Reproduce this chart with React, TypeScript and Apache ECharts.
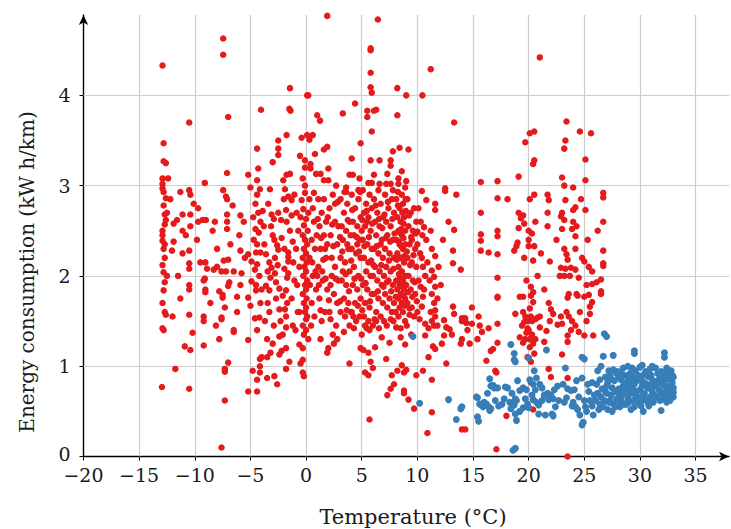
import React, { useEffect, useRef } from "react";
import * as echarts from "echarts";

const xTicks = [-20, -15, -10, -5, 0, 5, 10, 15, 20, 25, 30, 35];
const yTicks = [0, 1, 2, 3, 4];
const xGrid = [-15, -10, -5, 0, 5, 10, 15, 20, 25, 30, 35];
const yGrid = [1, 2, 3, 4];

const redCold: number[][] = [
  [-12.9,4.33],[-12.8,3.47],[-12.8,3.27],[-12.6,3.25],[-12.9,3.08],[-12.4,3.08],[-12.9,2.97],[-12.8,2.93],[-12.8,2.78],[-12.7,2.68],[-12.7,2.57],[-12.9,2.5],[-12.9,2.39],[-12.8,2.3],[-12.7,2.2],[-12.8,2.04],[-12.7,1.93],[-12.8,1.84],[-12.7,1.6],[-12.6,1.57],[-12.9,1.42],[-12.8,1.4],[-12.95,0.77],[-12.9,2.45],[-12.6,2.62],[-12.9,2.12],[-12.5,2.0],[-12.9,1.7],[-12.6,2.86],[-12.9,3.02],[-12.7,2.35],[-12.5,2.7],
  [-12.2,2.85],[-11.3,2.93],[-10.5,2.95],[-10.4,2.9],[-11.1,2.68],[-11.9,2.58],[-11.6,2.62],[-10.4,2.68],[-10.4,2.55],[-11.1,2.5],[-10.5,3.7],[-10.1,2.8],[-9.7,2.75],[-9.1,3.03],[-11.9,2.38],[-12.05,2.28],[-11.1,2.25],[-10.5,2.28],[-10.5,2.14],[-10.5,2.08],[-10.5,1.9],[-10.5,1.85],[-10.5,1.57],[-10.2,1.37],[-10.9,1.22],[-10.4,1.18],[-11.75,0.97],[-10.5,0.75],[-9.5,2.15],[-9.05,2.15],[-8.9,2.08],[-9.1,1.97],[-9.2,1.95],[-9.05,1.85],[-9.05,1.82],[-9.2,1.55],[-9.2,1.5],[-9.2,1.23],[-9.3,2.62],[-9.7,2.6],[-9.0,2.62],[-11.5,2.0],[-12.0,1.55],[-11.3,1.75],[-9.8,2.4],[-10.8,2.45],
  [-7.45,4.63],[-7.45,4.45],[-7.0,3.76],[-7.1,3.14],[-7.45,2.95],[-7.2,2.88],[-7.1,2.85],[-6.6,2.78],[-7.1,2.68],[-7.1,2.6],[-7.1,2.52],[-8.2,2.6],[-8.4,2.5],[-5.2,3.12],[-5.0,2.98],[-5.9,2.67],[-5.6,2.6],[-8.3,2.07],[-8.0,2.1],[-7.6,2.05],[-7.4,2.17],[-7.0,2.18],[-7.2,2.05],[-6.9,1.93],[-7.0,1.89],[-7.5,1.79],[-7.5,1.76],[-7.8,1.83],[-7.3,1.65],[-7.6,1.54],[-7.6,1.52],[-7.8,1.3],[-7.0,1.04],[-7.3,0.97],[-7.3,0.94],[-7.3,0.62],[-7.6,0.1],[-6.5,2.05],[-5.8,2.03],[-5.9,1.9],[-6.2,1.77],[-6.2,1.6],[-6.5,1.4],[-6.5,1.38],[-5.2,1.29],[-5.2,0.72],[-5.9,2.28],[-8.0,2.3],[-6.0,2.45],[-5.5,2.2],[-8.6,1.7],[-6.8,2.35],[-8.1,1.45],
  [-4.4,3.06],[-4.4,3.41],[-4.05,3.84],[-4.3,3.19],[-4.15,2.96],[-4.4,2.9],[-4.55,2.8],[-4.3,2.7],[-3.25,2.96],[-3.0,3.26],[-2.5,3.5],[-2.5,3.41],[-2.5,3.34],[-3.4,2.8],[-3.1,2.68],[-2.9,2.63],[-2.5,2.7],[-1.9,2.96],[-2.05,3.06],[-1.75,3.12],[-1.45,3.13],[-2.0,2.85],[-1.6,2.88],[-1.3,2.84],[-1.8,2.73],[-1.3,2.67],[-1.75,2.6],[-1.45,2.5],[-4.55,2.52],[-4.1,2.6],[-1.45,4.08],[-1.5,3.85],[-1.4,3.83],[-1.75,3.56],
  [-4.4,0.72],[-4.4,0.85],[-4.15,0.93],[-4.15,1.0],[-4.15,1.08],[-4.0,1.1],[-3.5,1.1],[-3.5,0.87],[-2.85,0.89],[-2.4,1.13],[-2.2,1.17],[-1.8,1.2],[-2.4,1.33],[-2.1,1.35],[-2.9,1.45],[-1.8,1.43],[-1.8,0.97],[-1.8,1.55],[-1.9,1.63],[-1.7,1.7],[-2.4,1.63],[-3.3,1.6],[-3.45,1.7],[-4.4,1.4],[-4.2,1.54],[-4.6,1.53],[-5.0,1.67],[-5.2,1.76],[-4.9,1.94],[-4.5,1.9],[-4.5,1.84],[-4.1,1.7],[-4.2,2.0],[-4.6,2.07],[-4.4,2.13],[-4.9,2.16],[-5.2,2.24],[-4.5,2.26],[-4.1,2.26],[-4.4,2.35],[-3.6,2.24],[-3.3,2.15],[-3.1,2.09],[-2.8,2.03],[-3.2,1.98],[-3.6,1.89],[-3.3,1.84],[-2.7,1.93],[-2.4,1.86],[-2.1,1.78],[-1.8,1.84],[-1.7,1.98],[-1.6,2.03],[-1.95,2.08],[-1.6,2.16],[-1.6,2.21],[-1.6,2.26],[-2.6,2.34],[-2.5,2.29],[-3.0,2.45],[-3.8,2.55],[-2.2,2.42],[-1.2,2.38],[-3.5,1.3],[-4.8,0.95],[-2.6,0.8],[-1.5,1.05],[-3.9,2.72],[-2.8,2.2],[-1.3,1.75],[-1.2,1.45],[-4.7,2.4],[-3.2,1.15],
  [-4.75,2.65],[-4.25,2.48],[-3.75,2.35],[-3.45,2.05],[-3.15,2.55],[-2.85,2.4],[-2.55,2.12],[-2.25,2.62],[-1.95,2.3],[-1.15,2.15],[-1.05,1.95],[-0.85,2.7],[-0.75,1.6],[-0.95,1.4],[-1.05,2.9],[-3.7,1.5],[-2.7,1.75],[-4.0,1.85],[-3.0,1.25],[-2.3,1.5],
];

const redMild: number[][] = [
  [-0.4,3.53],[-0.55,3.33],[-0.1,3.28],[-0.1,3.2],[-0.3,3.08],[0.1,4.0],[0.1,3.56],[-0.1,3.0],[-0.1,2.92],[-0.4,2.84],[-0.25,2.74],[0.0,2.63],[-0.2,2.56],[-0.6,1.24],[-0.3,1.07],[-0.5,1.03],[-0.3,0.93],[-0.2,0.89],[-0.3,1.2],[0.0,1.52],[-0.3,2.45],[-0.1,2.4],[0.1,2.35],[-0.2,2.3],[0.0,2.25],[-0.3,2.2],[0.05,2.15],[-0.15,2.1],[0.0,2.05],[-0.25,2.0],[0.1,1.95],[-0.1,1.9],[0.0,1.85],[-0.3,1.8],[0.05,1.75],[-0.2,1.7],[0.0,1.65],[-0.1,1.6],[0.1,1.55],[-0.3,1.45],[0.0,1.4],[-0.2,1.35],[0.15,2.5],[0.2,2.7],[0.3,2.85],[0.3,2.2],[0.35,1.9],[-0.6,2.1],[-0.7,2.5],[-0.8,1.9],[-0.9,2.3],[0.5,2.4],[0.6,2.0],[0.5,1.7],[0.4,3.24],[0.4,3.19],[0.3,3.51],[0.6,3.56],[-0.5,2.65],[-0.6,1.6],[0.2,1.3],[0.7,2.6],[0.8,2.3],[0.9,1.85],
  [1.9,4.88],[6.45,4.84],[5.8,4.52],[5.8,4.5],[5.8,4.25],[5.8,4.09],[5.9,4.03],[8.2,4.08],[9.0,4.0],[10.45,4.0],[11.2,4.29],[0.2,4.0],[4.4,3.91],[3.3,3.8],[1.0,3.78],[1.25,3.72],[5.5,3.83],[5.5,3.76],[6.1,3.83],[6.3,3.84],[8.2,3.78],[13.3,3.7],[5.9,3.6],[4.9,3.47],[1.6,3.4],[1.9,3.43],[0.8,3.35],[4.1,3.3],[5.8,3.28],[6.6,3.28],[7.8,3.38],[8.4,3.42],[9.2,3.4],[7.6,3.28],[7.6,3.22],[8.6,3.16],[7.3,3.13],[6.1,3.12],[3.9,3.12],[4.2,3.12],[2.0,3.19],[0.9,3.13],[1.3,3.13],[1.6,3.06],[2.0,3.06],[2.7,3.0],[3.6,2.98],[3.6,2.93],[4.8,3.08],[5.6,3.03],[5.9,3.03],[6.6,3.02],[7.2,3.02],[7.6,3.02],[8.3,3.08],[8.3,3.02],[9.0,3.05],[8.9,2.98],[10.4,2.94],[10.8,2.84],[11.6,2.8],[11.6,2.73],[12.5,2.97],[12.5,2.94],[13.3,2.51],[10.0,2.49],[10.6,2.54],[11.2,2.5],
  [1.1,2.85],[1.4,2.7],[1.2,2.55],[1.6,2.45],[1.3,2.3],[1.8,2.2],[1.1,2.1],[1.5,1.95],[1.9,1.85],[1.2,1.75],[1.7,1.6],[1.4,1.5],[1.8,2.6],[1.9,2.35],[1.0,2.0],[1.6,2.85],[1.3,1.3],[1.9,1.15],
  [2.1,2.75],[2.4,2.9],[2.6,2.6],[2.2,2.45],[2.8,2.35],[2.3,2.2],[2.6,2.1],[2.9,1.95],[2.2,1.9],[2.5,1.8],[2.8,1.7],[2.1,1.6],[2.7,1.45],[2.4,1.35],[2.9,2.55],[2.3,2.0],[2.6,2.8],[2.0,1.2],[2.5,1.25],[2.8,1.3],
  [3.1,2.85],[3.4,2.7],[3.7,2.8],[3.2,2.55],[3.6,2.5],[3.9,2.6],[3.3,2.4],[3.8,2.3],[3.1,2.2],[3.5,2.15],[3.9,2.05],[3.2,1.95],[3.6,1.9],[3.4,1.75],[3.8,1.7],[3.1,1.6],[3.5,1.55],[3.9,1.45],[3.4,1.38],[4.0,1.6],[3.7,2.35],[3.3,2.05],[3.9,1.03],
  [4.1,2.9],[4.4,2.75],[4.7,2.85],[4.2,2.6],[4.6,2.55],[4.9,2.65],[4.3,2.45],[4.8,2.4],[4.1,2.3],[4.5,2.25],[4.9,2.2],[4.3,2.1],[4.7,2.0],[4.2,1.9],[4.6,1.85],[4.9,1.75],[4.4,1.7],[4.1,1.6],[4.8,1.55],[4.5,1.5],[4.3,1.42],[4.7,2.95],[4.0,2.45],[4.6,2.35],[5.0,1.35],[4.9,1.2],
  [5.1,2.95],[5.4,2.8],[5.7,2.9],[5.2,2.7],[5.6,2.65],[5.9,2.75],[5.3,2.55],[5.8,2.5],[5.1,2.4],[5.5,2.35],[5.9,2.3],[5.2,2.2],[5.6,2.15],[5.4,2.05],[5.8,2.0],[5.1,1.9],[5.5,1.85],[5.9,1.8],[5.3,1.7],[5.7,1.65],[5.2,1.55],[5.6,1.5],[5.7,1.4],[5.3,1.45],[5.15,1.18],[5.6,1.15],[5.3,0.93],[5.6,0.9],[5.7,0.41],[5.8,1.05],[6.0,0.98],[5.5,2.6],[5.0,2.5],
  [6.1,2.85],[6.4,2.7],[6.7,2.8],[6.2,2.6],[6.6,2.55],[6.9,2.65],[6.3,2.45],[6.8,2.4],[6.1,2.3],[6.5,2.25],[6.9,2.2],[6.2,2.1],[6.6,2.05],[6.4,1.95],[6.8,1.9],[6.1,1.8],[6.5,1.75],[6.9,1.7],[6.3,1.6],[6.7,1.55],[6.0,1.45],[6.3,1.5],[6.2,1.21],[6.8,1.32],[7.0,1.5],[6.5,2.95],[6.0,2.0],[6.7,2.35],
  [7.1,2.9],[7.4,2.75],[7.7,2.85],[7.2,2.6],[7.6,2.55],[7.9,2.7],[7.3,2.45],[7.8,2.4],[7.1,2.3],[7.5,2.25],[7.9,2.2],[7.2,2.1],[7.6,2.05],[7.4,1.95],[7.8,1.9],[7.1,1.8],[7.5,1.75],[7.9,1.7],[7.3,1.65],[7.7,1.6],[7.6,1.52],[7.2,1.08],[7.7,0.9],[7.9,0.8],[7.6,0.75],[7.3,0.68],[7.5,1.26],[7.0,2.0],[7.8,2.95],
  [8.1,2.85],[8.4,2.75],[8.7,2.8],[8.2,2.65],[8.5,2.6],[8.8,2.65],[8.3,2.5],[8.6,2.45],[8.9,2.5],[8.1,2.4],[8.4,2.35],[8.7,2.3],[8.9,2.35],[8.2,2.25],[8.5,2.2],[8.8,2.15],[8.3,2.1],[8.6,2.05],[8.9,2.0],[8.1,1.95],[8.4,1.9],[8.7,1.95],[8.2,1.85],[8.5,1.8],[8.8,1.85],[8.3,1.75],[8.6,1.7],[8.9,1.75],[8.4,1.65],[8.7,1.6],[8.1,1.43],[8.5,1.42],[8.9,1.5],[8.5,1.32],[8.2,0.95],[8.6,1.01],[8.8,0.93],[8.8,0.73],[8.8,0.7],[8.9,1.24],[8.6,2.9],[8.3,1.55],
  [9.0,0.96],[9.1,2.85],[9.4,2.7],[9.7,2.75],[9.2,2.55],[9.6,2.5],[9.3,2.35],[9.8,2.3],[9.1,2.2],[9.5,2.15],[9.9,2.1],[9.2,2.0],[9.6,1.95],[9.4,1.85],[9.8,1.8],[9.1,1.7],[9.5,1.65],[9.3,1.64],[9.3,1.57],[9.7,0.53],[9.9,0.9],[9.7,1.55],[9.0,1.9],[9.5,2.4],[9.9,2.6],[9.2,0.63],
  [10.0,2.35],[10.4,2.2],[10.5,2.1],[10.7,2.0],[10.3,1.88],[10.5,1.77],[10.4,1.66],[10.2,1.52],[10.7,1.47],[11.3,1.5],[11.5,1.45],[11.8,1.45],[11.3,2.06],[11.5,1.99],[11.6,1.88],[11.3,1.8],[11.5,1.7],[11.6,1.62],[11.2,1.6],[11.3,2.3],[11.6,2.22],[10.5,0.95],[11.3,0.85],[11.3,0.49],[10.9,0.26],[11.0,1.1],[10.7,1.34],[11.4,1.22],[11.6,1.19],[11.0,1.42],[11.6,1.55],[10.3,2.6],[10.1,2.75],[10.8,2.4],[11.9,2.1],
];

const redDense: number[][] = [
  [0.7,2.92],[1.05,2.63],[1.35,2.42],[1.55,2.18],[1.75,1.97],[2.05,1.73],[2.35,2.57],[2.45,2.33],[2.65,1.97],[2.85,2.82],[3.05,2.43],[3.25,2.27],[3.45,2.93],[3.55,2.02],[3.75,2.62],[3.85,1.83],[4.05,2.17],[4.15,2.73],[4.35,1.97],[4.55,2.43],[4.65,1.67],[4.75,2.27],[4.85,2.93],[4.95,1.97],[5.05,2.62],[5.25,2.33],[5.35,1.92],[5.45,2.72],[5.65,2.43],[5.75,1.72],[5.85,2.17],[5.95,2.58],[6.05,2.12],[6.25,2.78],[6.35,2.33],[6.45,1.83],[6.55,2.63],[6.75,2.12],[6.85,2.53],[6.95,1.88],[7.05,2.68],[7.15,2.42],[7.25,1.93],[7.35,2.82],[7.45,2.17],[7.55,2.38],[7.65,1.83],[7.75,2.63],[7.85,2.08],[7.95,2.47],[8.05,1.77],[8.15,2.18],[8.25,2.93],[8.35,2.38],[8.45,1.98],[8.55,2.52],[8.65,1.88],[8.75,2.42],[8.85,1.67],[8.95,2.72],[9.05,2.27],[9.15,1.82],[9.25,2.67],[9.35,2.12],[9.45,2.43],[9.55,1.77],[9.65,2.23],[9.75,1.93],[9.85,2.47],[9.95,1.72],
  [1.3,1.62],[2.2,1.52],[3.05,1.72],[3.65,1.62],[4.25,1.55],[5.05,1.62],[5.45,1.42],[6.15,1.52],[6.55,1.42],[7.25,1.45],[7.85,1.5],[8.05,1.6],[9.05,1.45],[9.45,1.35],[10.0,1.6],[10.1,1.95],[10.25,2.25],[10.45,2.45],[10.6,1.85],[10.9,2.15],[11.1,1.95],[11.8,1.75],
  [0.45,1.45],[0.75,1.55],[0.55,2.15],[0.85,2.05],[0.6,2.75],[0.95,2.45],[1.15,1.9],[1.45,2.05],[1.7,2.3],[1.95,2.65],
  [8.55,2.33],[8.75,2.58],[8.95,2.85],[8.45,2.48],[8.65,2.7],[8.25,2.78],[8.85,2.22],[8.35,2.02],[8.55,1.92],[8.75,1.78],
];

const redWarm: number[][] = [
  [12.4,1.51],[12.6,1.43],[13.2,1.66],[13.3,1.58],[13.2,2.28],[13.2,2.14],[13.9,2.07],[14.0,1.5],[14.4,1.48],[13.9,1.25],[14.7,1.25],[13.1,1.35],[12.9,1.41],[12.4,1.34],[12.2,1.25],[12.6,1.03],[14.3,0.3],[14.9,1.65],[14.9,1.47],[14.5,1.4],[14.0,1.53],[14.15,1.53],[14.3,1.53],[14.0,1.3],[14.0,0.3],[12.3,2.4],[12.8,2.6],[12.1,1.9],[13.5,2.9],
  [15.7,3.04],[17.2,3.05],[17.2,2.86],[18.1,2.85],[19.1,3.1],[15.7,2.7],[17.2,2.5],[15.7,2.46],[15.7,2.39],[15.7,2.28],[16.4,2.26],[17.2,2.24],[17.2,2.44],[18.7,2.28],[18.9,2.33],[19.0,2.37],[17.2,1.98],[17.2,1.77],[17.2,1.76],[17.2,1.47],[17.2,1.26],[16.4,1.42],[16.8,1.19],[16.6,1.17],[16.2,1.06],[17.0,0.95],[15.5,1.55],[15.6,1.45],[15.8,1.38],[15.4,1.3],[18.8,1.58],[19.5,1.77],[19.2,1.77],[19.6,1.49],[19.2,1.32],[19.5,1.26],[19.7,1.3],[18.0,0.45],[17.1,0.08],[17.1,0.93],
  [20.1,3.58],[20.5,3.6],[19.7,3.48],[20.5,3.28],[20.4,3.24],[21.0,4.42],[20.1,2.85],[20.5,2.9],[19.1,2.7],[19.5,2.67],[19.3,2.64],[19.6,2.58],[19.1,2.53],[20.0,2.5],[20.3,2.47],[20.0,2.4],[20.0,2.33],[20.5,2.33],[20.4,2.17],[20.4,1.82],[20.2,1.88],[20.2,1.78],[20.4,1.71],[20.1,1.64],[20.2,1.55],[20.3,1.5],[20.6,1.52],[20.8,1.54],[21.0,1.55],[19.9,1.42],[19.8,1.37],[20.1,1.3],[20.4,1.25],[20.1,1.21],[20.5,1.14],[21.0,1.43],[21.4,1.85],[20.4,0.52],[19.9,1.1],[20.2,1.05],[19.6,2.2],[20.8,2.0],[20.6,2.6],[19.8,1.95],[21.1,2.25],[19.5,1.6],[19.9,1.5],[20.3,1.35],[20.0,1.4],[19.7,1.55],[20.6,1.3],[19.4,1.45],[20.2,0.82],
  [21.7,2.9],[21.8,2.84],[21.7,2.7],[21.7,2.55],[21.9,2.16],[22.0,1.63],[21.8,1.7],[22.2,1.58],[21.9,1.5],[21.6,1.39],[21.4,1.27],[21.8,0.97],[22.6,1.46],[22.9,1.55],[23.0,1.47],[23.0,1.13],[22.5,2.4],[22.8,2.0],[22.0,0.88],
  [23.4,3.71],[23.3,3.5],[23.2,3.41],[24.6,3.6],[25.6,3.58],[25.1,3.29],[25.1,3.06],[23.0,3.09],[23.2,3.0],[24.0,2.98],[23.3,2.84],[25.1,2.73],[24.0,2.73],[24.2,2.76],[23.0,2.7],[22.9,2.66],[23.2,2.62],[24.0,2.6],[24.3,2.55],[23.0,2.52],[23.9,2.52],[24.2,2.44],[24.2,2.3],[23.2,2.3],[23.4,2.24],[23.5,2.18],[22.9,2.09],[23.3,2.08],[23.8,2.09],[24.2,2.07],[23.2,2.0],[23.7,2.0],[24.5,1.98],[25.0,2.16],[25.4,2.1],[25.7,2.05],[25.7,1.91],[25.2,1.9],[25.4,1.79],[25.0,1.77],[24.3,1.8],[24.4,1.78],[23.6,1.8],[23.5,1.76],[25.7,1.71],[25.5,1.66],[25.5,1.58],[25.2,1.5],[25.0,1.34],[25.8,1.34],[23.4,1.6],[23.6,1.55],[23.9,1.5],[24.2,1.45],[24.5,1.38],[23.5,1.34],[23.5,1.27],[23.5,0.87],[23.5,0.0],[24.8,2.2],[24.6,1.6],[25.3,2.4],[24.7,2.85],[23.8,1.4],
  [26.7,2.92],[26.7,2.87],[26.7,2.6],[26.7,2.28],[26.7,2.14],[26.7,2.11],[26.5,1.96],[26.1,1.93],[26.5,1.83],[26.5,1.8],[26.2,2.5],
];

const blueSparse: number[][] = [
  [9.6,1.33],[10.2,0.59],[12.8,0.63],[13.9,0.53],[14.0,0.55],[13.5,0.41],[15.5,0.39],[15.4,0.65],[15.9,0.55],[16.2,0.58],[16.5,0.86],[16.6,0.78],[16.9,0.76],[16.5,0.51],[16.6,0.53],[17.3,0.56],[17.6,0.58],[17.9,0.77],[18.1,0.76],[18.4,1.24],[18.7,1.14],[18.8,1.05],[18.7,1.07],[18.6,0.07],[18.3,0.6],[18.4,0.53],[18.7,0.57],[18.8,0.64],[18.9,0.62],[18.8,0.47],[18.9,0.4],[19.2,0.5],[19.5,0.54],[19.2,0.73],[19.5,0.76],[19.8,0.74],[20.0,1.09],[20.5,0.95],[20.1,0.85],[20.4,0.8],[20.6,0.74],[20.7,0.87],[20.4,0.63],[20.7,0.6],[20.9,0.57],[21.2,0.62],[19.9,0.58],[20.0,0.54],[20.9,0.47],[21.5,0.46],[21.6,1.18],[21.2,0.76],[21.7,0.7],[21.8,0.63],[22.0,0.68],[22.2,0.64],[22.1,0.47],[22.2,0.45],[22.3,0.74],[22.7,0.62],[23.2,0.6],[23.4,0.65],[23.3,0.98],[23.5,0.75],[23.8,0.73],[24.1,0.74],[24.8,1.1],[24.8,0.35],[24.0,0.6],[24.2,0.55],[24.4,0.52],[24.6,0.46],[24.8,0.87],[25.0,0.62],[25.1,0.55],[25.2,0.5],[25.4,0.72],[25.5,0.62],[25.7,0.56],[25.8,0.46],[25.0,1.08],
  [15.3,0.66],[15.6,0.58],[16.0,0.6],[16.4,0.55],[15.4,0.44],[16.8,0.79],[17.2,0.76],[18.8,0.09],[24.9,0.38],
  [25.7,0.82],[25.9,0.68],[25.3,0.8],[24.5,0.66],[24.3,0.84],[23.9,0.56],[23.1,0.8],[22.6,0.78],[22.4,0.55],[21.4,0.68],[21.0,0.8],[20.3,0.68],[19.7,0.64],[19.0,0.84],[18.5,0.7],[17.8,0.64],[17.0,0.62],[16.3,0.7],
];

const blueHot: number[][] = [
  [26.8,1.36],[27.0,1.33],[26.7,1.11],[27.6,1.12],[29.5,1.17],[29.5,1.14],[30.2,1.01],[32.2,1.15],[32.2,1.1],[33.0,0.71],[31.9,0.51],[32.4,0.66],[32.4,0.6],
  [26.0,0.62],[26.2,0.7],[26.4,0.58],[26.1,0.8],[26.5,0.66],[26.3,0.52],[26.6,0.75],[26.8,0.62],[26.9,0.88],[26.7,0.55],
  [27.0,0.7],[27.1,0.82],[27.2,0.6],[27.3,0.9],[27.4,0.68],[27.5,0.76],[27.6,0.58],[27.7,0.84],[27.8,0.72],[27.9,0.64],[27.2,0.95],[27.5,0.5],[27.9,0.92],[27.0,0.78],[27.4,0.86],
  [28.0,0.94],[28.1,0.75],[28.2,0.68],[28.3,0.85],[28.4,0.6],[28.5,0.78],[28.6,0.9],[28.7,0.7],[28.8,0.82],[28.9,0.65],[28.2,0.55],[28.5,0.98],[28.9,0.88],[28.0,0.62],[28.4,0.72],[28.7,0.8],[28.3,0.92],[28.6,0.58],
  [29.0,0.76],[29.1,0.84],[29.2,0.7],[29.3,0.88],[29.4,0.62],[29.5,0.8],[29.6,0.95],[29.7,0.72],[29.8,0.66],[29.9,0.86],[29.0,0.6],[29.3,0.98],[29.5,0.55],[29.8,0.9],[29.2,0.78],[29.6,0.68],
  [30.0,0.74],[30.1,0.84],[30.2,0.62],[30.3,0.9],[30.4,0.7],[30.5,0.94],[30.6,0.8],[30.7,0.76],[30.8,0.88],[30.9,0.66],[30.1,0.56],[30.4,0.82],[30.7,0.6],[30.9,0.97],[30.3,0.68],
  [31.0,0.9],[31.1,0.72],[31.2,0.84],[31.3,0.78],[31.4,0.98],[31.5,0.66],[31.6,0.92],[31.7,0.74],[31.8,0.86],[31.9,0.7],[31.2,0.6],[31.5,0.8],[31.8,0.62],
  [32.0,0.8],[32.1,0.92],[32.3,0.85],[32.4,0.98],[32.5,0.9],[32.6,0.94],[32.5,0.78],[32.7,0.86],[32.8,0.74],[32.9,0.82],[33.0,0.88],[32.2,0.7],[32.6,0.7],[33.0,0.76],[32.8,0.95],
  [26.4,0.85],[26.9,0.72],[27.3,0.62],[27.6,0.96],[27.8,0.55],[28.1,0.88],[28.3,0.65],[28.6,0.74],[28.8,0.58],[29.1,0.92],[29.4,0.74],[29.7,0.84],[29.9,0.6],[30.2,0.78],[30.5,0.64],[30.6,0.9],[30.8,0.56],[31.0,0.8],[31.3,0.68],[31.6,0.84],[31.9,0.94],[32.1,0.64],[32.3,0.76],[32.7,0.62],[32.9,0.9],[33.0,0.66],[28.9,1.0],[30.0,0.99],[31.1,1.0],[29.2,0.52],[30.3,0.5],[27.1,0.52],[26.2,0.95],[26.5,1.0],
];

const FONT = "DejaVu Serif";
const RED = "#e41a1c";
const BLUE = "#377eb8";

export default function App() {
  const ref = useRef<HTMLDivElement>(null);
  useEffect(() => {
    if (!ref.current) return;
    const chart = echarts.init(ref.current, null, { renderer: "svg" });
    const gridLine = { color: "#cdcdcd", width: 1.2, type: "solid" };
    chart.setOption({
      animation: false,
      backgroundColor: "#fff",
      grid: { left: 83.5, right: 2, top: 15, bottom: 72.5 },
      xAxis: {
        type: "value",
        min: -20,
        max: 38,
        interval: 5,
        splitLine: { show: false },
        axisLine: {
          onZero: false,
          symbol: ["none", "arrow"],
          symbolSize: [7, 10],
          lineStyle: { color: "#000", width: 1.4 },
        },
        axisTick: { show: true, length: 4, customValues: xTicks, lineStyle: { color: "#000" } },
        axisLabel: {
          customValues: xTicks,
          formatter: (v: number) => (v < 0 ? "\u2212" + Math.abs(v) : String(v)),
          fontFamily: FONT,
          fontSize: 19,
          lineHeight: 17,
          color: "#1a1a1a",
          margin: 10,
        },
      },
      yAxis: {
        type: "value",
        min: 0,
        max: 4.89,
        interval: 1,
        splitLine: { show: false },
        axisLine: {
          onZero: false,
          symbol: ["none", "arrow"],
          symbolSize: [7, 10],
          lineStyle: { color: "#000", width: 1.4 },
        },
        axisTick: { show: true, length: 4, customValues: yTicks, lineStyle: { color: "#000" } },
        axisLabel: {
          customValues: yTicks,
          formatter: (v: number) => (v === 0 ? "{z|0}" : String(v)),
          rich: {
            z: { fontFamily: FONT, fontSize: 19, lineHeight: 15, color: "#1a1a1a", padding: [0, 0, 6, 0] },
          },
          fontFamily: FONT,
          fontSize: 19,
          lineHeight: 17,
          color: "#1a1a1a",
          margin: 13,
        },
      },
      graphic: [
        {
          type: "text",
          x: 413,
          y: 517,
          style: {
            text: "Temperature (°C)",
            fontFamily: FONT,
            fontSize: 21,
            fill: "#1a1a1a",
            textAlign: "center",
            textVerticalAlign: "middle",
          },
        },
        {
          type: "text",
          x: 27,
          y: 272,
          rotation: Math.PI / 2,
          style: {
            text: "Energy consumption (kW h/km)",
            fontFamily: FONT,
            fontSize: 20,
            fill: "#1a1a1a",
            textAlign: "center",
            textVerticalAlign: "middle",
          },
        },
      ],
      series: [
        {
          type: "scatter",
          data: [],
          z: 1,
          silent: true,
          markLine: {
            z: 1,
            silent: true,
            symbol: ["none", "none"],
            label: { show: false },
            lineStyle: gridLine,
            data: [
              ...xGrid.map((v) => ({ xAxis: v })),
              ...yGrid.map((v) => ({ yAxis: v })),
            ],
          },
        },
        {
          name: "red",
          type: "scatter",
          z: 2,
          symbolSize: 6.5,
          itemStyle: { color: RED, opacity: 1 },
          data: [...redCold, ...redMild, ...redDense, ...redWarm],
        },
        {
          name: "blue",
          type: "scatter",
          z: 3,
          symbolSize: 7,
          itemStyle: { color: BLUE, opacity: 1 },
          data: [...blueSparse, ...blueHot],
        },
      ],
    });
    return () => chart.dispose();
  }, []);
  return <div ref={ref} style={{ width: 731, height: 529, position: "absolute", left: 0, top: 0 }} />;
}
